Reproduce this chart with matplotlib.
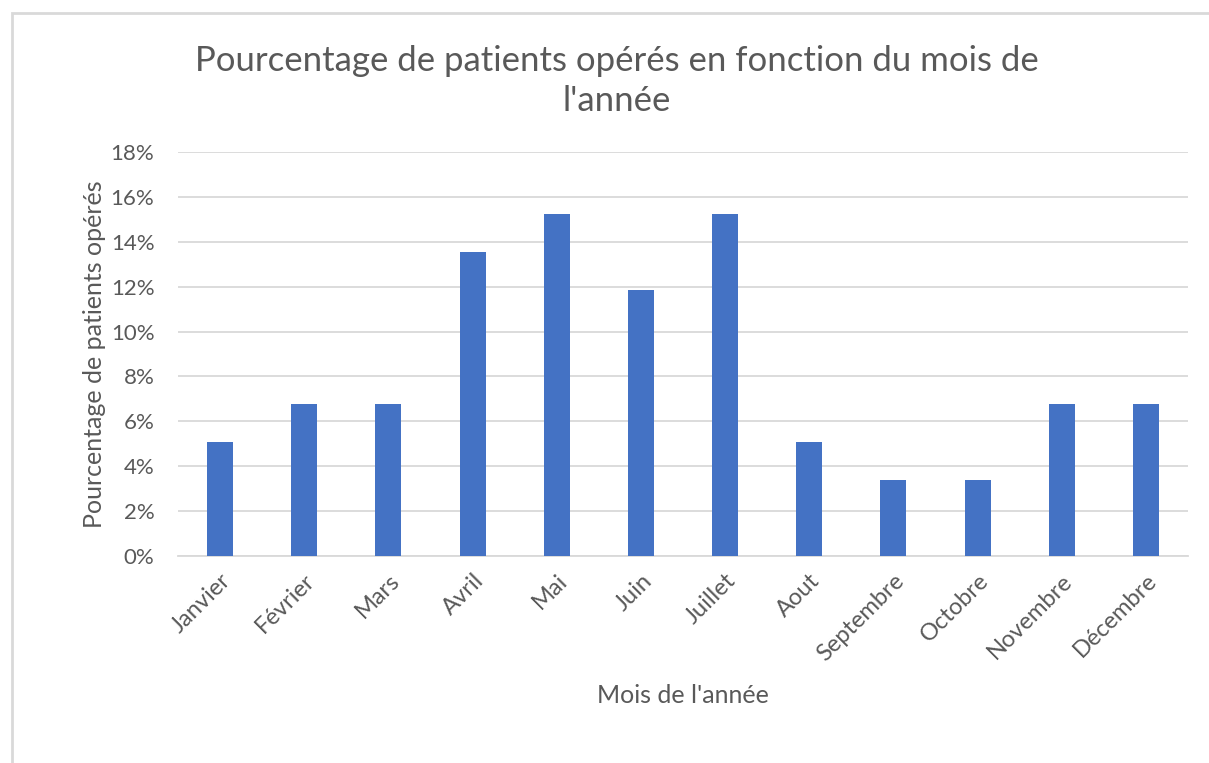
import matplotlib
matplotlib.use("Agg")
import matplotlib.pyplot as plt
from matplotlib.patches import Rectangle
from matplotlib.ticker import FuncFormatter

months = ["Janvier", "Février", "Mars", "Avril", "Mai", "Juin", "Juillet",
          "Aout", "Septembre", "Octobre", "Novembre", "Décembre"]
percent = [5.08, 6.78, 6.78, 13.56, 15.25, 11.86, 15.25, 5.08, 3.39, 3.39, 6.78, 6.78]
yticks = [0, 2, 4, 6, 8, 10, 12, 14, 16, 18]

W, H = 1209, 763
plt.rcParams['font.family'] = ['Lato', 'DejaVu Sans']
fig = plt.figure(figsize=(W / 100, H / 100), dpi=100)
txt = '#595959'
grid = '#D9D9D9'

ax = fig.add_axes([178 / W, 1 - 556 / H, (1188 - 178) / W, (556 - 152) / H])
x = list(range(len(months)))
ax.bar(x, percent, width=0.31, color='#4472C4', zorder=3)
ax.set_xlim(-0.5, len(months) - 0.5)
ax.set_ylim(0, 18)
ax.set_yticks(yticks)
ax.yaxis.set_major_formatter(FuncFormatter(lambda v, p: f"{int(v)}%"))
ax.grid(axis='y', color=grid, linewidth=1.3, zorder=0)
for s in ['top', 'right', 'left']:
    ax.spines[s].set_visible(False)
ax.spines['bottom'].set_color(grid)
ax.spines['bottom'].set_linewidth(1.3)
ax.tick_params(axis='y', length=0, colors=txt, labelsize=16, pad=17)
ax.tick_params(axis='x', length=0, colors=txt, labelsize=17, pad=10)
ax.set_xticks(x)
ax.set_xticklabels(months, rotation=45, ha='right', rotation_mode='anchor')

ax.set_xlabel("Mois de l'année", color=txt, fontsize=18, labelpad=14)
ax.set_ylabel("Pourcentage de patients opérés", color=txt, fontsize=18, labelpad=3)

fig.text(617 / W, 1 - 81 / H, "Pourcentage de patients opérés en fonction du mois de\nl'année",
         ha='center', va='center', fontsize=25, color=txt, linespacing=1.28)

fig.patches.append(Rectangle((11.5 / W, -0.05), 1.2, 1 - 12.5 / H + 0.05,
                             transform=fig.transFigure, fill=False,
                             edgecolor=grid, linewidth=2))

fig.savefig("out.png", dpi=100)
